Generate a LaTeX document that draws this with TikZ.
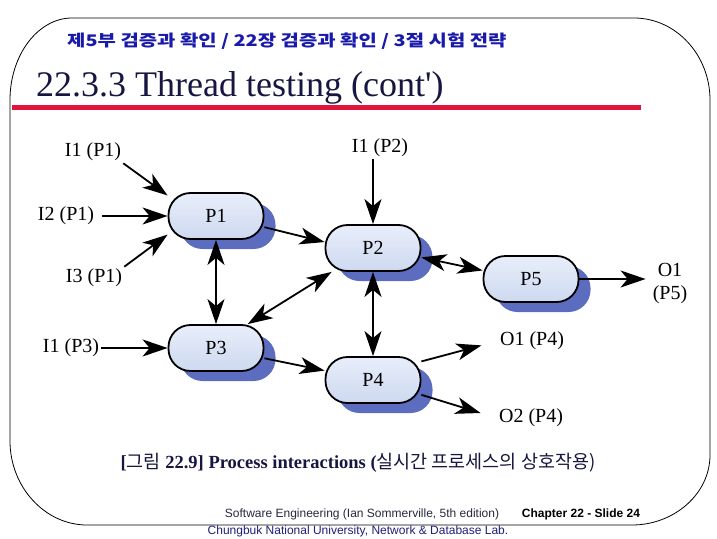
\documentclass[tikz,border=0pt]{standalone}
\usepackage{fontspec}
\setmainfont{Liberation Serif}
\setsansfont{Liberation Sans}
\newfontfamily\kr{Noto Sans CJK KR}
\usetikzlibrary{arrows.meta,shadows}

\definecolor{headblue}{RGB}{25,25,170}
\definecolor{titlenavy}{RGB}{22,22,64}
\definecolor{rulered}{RGB}{226,20,60}
\definecolor{shadowblue}{RGB}{92,108,190}
\definecolor{procTop}{RGB}{232,238,250}
\definecolor{procMid}{RGB}{248,250,254}
\definecolor{procBot}{RGB}{206,217,240}
\definecolor{footgrey}{RGB}{40,40,60}
\definecolor{footblue}{RGB}{30,30,120}

\begin{document}
\begin{tikzpicture}[x=1pt, y=-1pt, >={Stealth[length=25pt,width=17pt,inset=7pt]},
  proc/.style={draw=black, line width=1.8pt, rounded corners=22pt,
    minimum width=95pt, minimum height=46pt,
    top color=procTop, middle color=procMid, bottom color=procBot,
    drop shadow={shadow xshift=12pt, shadow yshift=-10pt, fill=shadowblue, opacity=1},
    font=\fontsize{20}{23}\selectfont},
  lbl/.style={inner sep=2pt, font=\fontsize{20}{23}\selectfont},
  conn/.style={line width=1.8pt}]

\useasboundingbox (0,0) rectangle (717,538);

% Frame
\draw[line width=0.8pt] (72,18) -- (634,18)
  .. controls (676,18) and (710,55) .. (710,100) -- (710,455)
  .. controls (710,494) and (674,525) .. (632,525) -- (87,525)
  .. controls (45,525) and (10,487) .. (10,441) -- (10,100)
  .. controls (10,55) and (38,18) .. cycle;

% Header
\node[anchor=west, text=headblue, inner sep=0pt] (head) at (67,41)
  {\scalebox{1.245}[1]{\kr\bfseries\fontsize{16}{18}\selectfont 제5부 검증과 확인 / 22장 검증과 확인 / 3절 시험 전략}};

% Title
\node[anchor=base west, text=titlenavy, inner sep=0pt] (title) at (36,96)
  {\fontsize{36}{40}\selectfont 22.3.3 Thread testing (cont\textquotesingle)};
\draw[rulered, line width=5pt] (12,107) -- (641,107);

% Processes
\node[proc] (p1) at (216,216) {P1};
\node[proc] (p2) at (373,248) {P2};
\node[proc] (p3) at (216,348) {P3};
\node[proc] (p4) at (373,380) {P4};
\node[proc] (p5) at (531,279) {P5};

% Inputs and outputs
\node[lbl] (i1p1) at (93,152) {I1 (P1)};
\node[lbl] (i2p1) at (66,216) {I2 (P1)};
\node[lbl] (i3p1) at (94,278) {I3 (P1)};
\node[lbl] (i1p3) at (71,348) {I1 (P3)};
\node[lbl] (i1p2) at (380,148) {I1 (P2)};
\node[lbl, align=center] (o1p5) at (670,284) {O1\\(P5)};
\node[lbl] (o1p4) at (532,341) {O1 (P4)};
\node[lbl] (o2p4) at (531,418) {O2 (P4)};

% Interactions
\draw[conn,->] (i1p1.south east) -- (p1.157);
\draw[conn,->, shorten <=6pt] (i2p1.east) -- (p1.west);
\draw[conn,->] (i3p1.north east) -- (p1.201);
\draw[conn,->] (i1p3.east) -- (p3.west);
\draw[conn,->] (i1p2.south -| p2.north) -- (p2.north);
\draw[conn,<->] (p1.south) -- (p3.north);
\draw[conn,->] (p1.-13) -- (p2.173);
\draw[conn,<->] (p3.37) -- (p2.210);
\draw[conn,<->] (p2.south) -- (p4.north);
\draw[conn,<->] (p2.-11) -- (p5.170);
\draw[conn,->, shorten >=5pt] (p5.east) -- (o1p5.west |- p5.east);
\draw[conn,->] (p3.-12) -- (p4.169);
\draw[conn,->, shorten >=17pt] (p4.21) -- (o1p4.west);
\draw[conn,->, shorten >=17pt] (p4.-17) -- (o2p4.west);

% Caption
\node[text=titlenavy] (caption) at (358,463)
  {\fontsize{18.5}{21}\selectfont\textbf{[}{\kr 그림} \textbf{22.9] Process interactions (}{\kr 실시간 프로세스의 상호작용)}};

% Footer
\node[text=footgrey] (book) at (362,514)
  {\sffamily\fontsize{12}{14}\selectfont Software Engineering (Ian Sommerville, 5th edition)};
\node (slide) at (581,514)
  {\sffamily\bfseries\fontsize{12}{14}\selectfont Chapter 22 - Slide 24};
\node[text=footblue] (lab) at (358,531)
  {\sffamily\fontsize{12}{14}\selectfont Chungbuk National University, Network \& Database Lab.};

\end{tikzpicture}
\end{document}
